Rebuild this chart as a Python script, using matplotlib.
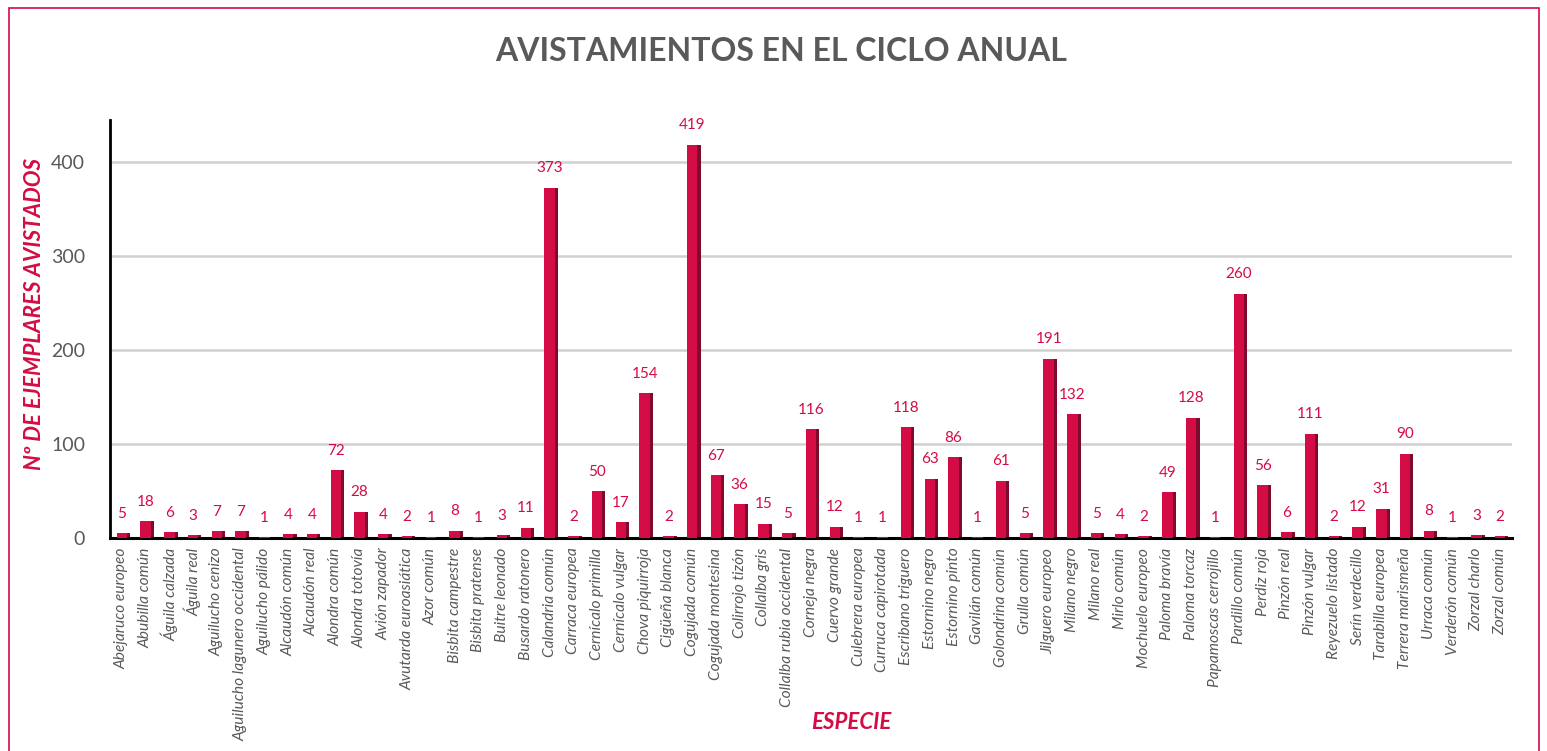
import matplotlib
matplotlib.use("Agg")
import matplotlib.pyplot as plt
from matplotlib.patches import Rectangle

# datos
especies = [
    "Abejaruco europeo", "Abubilla común", "Águila calzada", "Águila real",
    "Aguilucho cenizo", "Aguilucho lagunero occidental", "Aguilucho pálido",
    "Alcaudón común", "Alcaudón real", "Alondra común", "Alondra totovía",
    "Avión zapador", "Avutarda euroasiática", "Azor común", "Bisbita campestre",
    "Bisbita pratense", "Buitre leonado", "Busardo ratonero", "Calandria común",
    "Carraca europea", "Cernícalo primilla", "Cernícalo vulgar", "Chova piquirroja",
    "Cigüeña blanca", "Cogujada común", "Cogujada montesina", "Colirrojo tizón",
    "Collalba gris", "Collalba rubia occidental", "Corneja negra", "Cuervo grande",
    "Culebrera europea", "Curruca capirotada", "Escribano triguero",
    "Estornino negro", "Estornino pinto", "Gavilán común", "Golondrina común",
    "Grulla común", "Jilguero europeo", "Milano negro", "Milano real",
    "Mirlo común", "Mochuelo europeo", "Paloma bravía", "Paloma torcaz",
    "Papamoscas cerrojillo", "Pardillo común", "Perdiz roja", "Pinzón real",
    "Pinzón vulgar", "Reyezuelo listado", "Serín verdecillo", "Tarabilla europea",
    "Terrera marismeña", "Urraca común", "Verderón común", "Zorzal charlo",
    "Zorzal común",
]
avistamientos = [
    5, 18, 6, 3, 7, 7, 1, 4, 4, 72, 28, 4, 2, 1, 8, 1, 3, 11, 373, 2,
    50, 17, 154, 2, 419, 67, 36, 15, 5, 116, 12, 1, 1, 118, 63, 86, 1, 61,
    5, 191, 132, 5, 4, 2, 49, 128, 1, 260, 56, 6, 111, 2, 12, 31, 90, 8,
    1, 3, 2,
]
y_ticks = [0, 100, 200, 300, 400]

rojo = "#d40c45"
rojo_oscuro = "#7e0a2c"
gris = "#595959"

plt.rcParams["font.family"] = ["Lato", "DejaVu Sans"]

fig = plt.figure(figsize=(15.47, 7.51), dpi=100)
ax = fig.add_axes([0.0711, 0.2836, 0.9063, 0.5564])

x = list(range(len(especies)))
# cara frontal y lateral (efecto 3D simple)
ax.bar(x, avistamientos, width=0.44, color=rojo, zorder=3)
ax.bar([i + 0.28 for i in x], avistamientos, width=0.14, color=rojo_oscuro, zorder=2)

for i, v in zip(x, avistamientos):
    ax.annotate(str(v), (i, v), xytext=(0, 9), textcoords="offset points",
                ha="center", va="bottom", color=rojo, fontsize=11)

ax.set_xlim(-0.5, len(especies) - 0.5)
ax.set_ylim(0, 445)
ax.set_yticks(y_ticks)
ax.set_yticklabels([str(t) for t in y_ticks], color=gris, fontsize=14)
ax.set_xticks(x)
ax.set_xticklabels(especies, rotation=90, fontstyle="italic", color=gris, fontsize=11.2)
ax.tick_params(axis="both", length=0)
ax.tick_params(axis="y", pad=18)
ax.tick_params(axis="x", pad=7)

ax.grid(axis="y", color="#d0d0d0", linewidth=1.8, zorder=0)
ax.set_axisbelow(True)
for s in ["top", "right"]:
    ax.spines[s].set_visible(False)
ax.spines["left"].set_linewidth(2)
ax.spines["bottom"].set_linewidth(2.2)

fig.text(0.0226, 0.582, "Nº DE EJEMPLARES AVISTADOS", rotation=90, ha="center",
         va="center", color=rojo, fontsize=16, fontweight="bold", fontstyle="italic")
fig.text(0.55, 0.038, "ESPECIE", ha="center", va="center", color=rojo, fontsize=16,
         fontweight="bold", fontstyle="italic")

fig.text(0.505, 0.931, "AVISTAMIENTOS EN EL CICLO ANUAL", ha="center", va="center",
         color=gris, fontsize=23, fontweight="bold")

# borde del gráfico
fig.patches.append(Rectangle((0.0055, -0.01), 0.9895, 0.9997, transform=fig.transFigure,
                             fill=False, edgecolor=rojo, linewidth=1.2))

fig.savefig("out.png", dpi=100)
